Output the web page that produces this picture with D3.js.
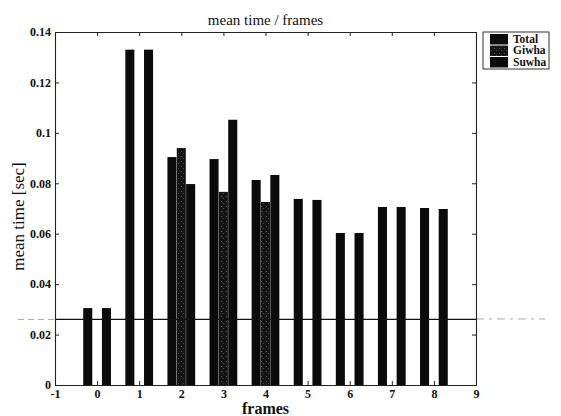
<!DOCTYPE html>
<html>
<head>
<meta charset="utf-8">
<script src="https://cdn.jsdelivr.net/npm/d3@7"></script>
<style>
  body { margin: 0; background: #fff; }
  text { font-family: "Liberation Serif", "Times New Roman", serif; fill: #111; }
</style>
</head>
<body>
<div id="chart"></div>
<script>
var frames = [0, 1, 2, 3, 4, 5, 6, 7, 8];
var seriesNames = ["Total", "Giwha", "Suwha"];
var total = [0.0305, 0.133, 0.0904, 0.0896, 0.0813, 0.0738, 0.0603, 0.0706, 0.0702];
var giwha = [0, 0, 0.094, 0.0766, 0.0726, 0, 0, 0, 0];
var suwha = [0.0305, 0.133, 0.0797, 0.1052, 0.0833, 0.0734, 0.0603, 0.0706, 0.0698];
var xTicks = [-1, 0, 1, 2, 3, 4, 5, 6, 7, 8, 9];
var yTicks = [0, 0.02, 0.04, 0.06, 0.08, 0.1, 0.12, 0.14];
var yTickLabels = ["0", "0.02", "0.04", "0.06", "0.08", "0.1", "0.12", "0.14"];
var refLine = 0.026;

var width = 561,
    height = 416;
var plot = {left: 55, top: 32, right: 476, bottom: 385};

var svg = d3.select("#chart").append("svg")
  .attr("width", width)
  .attr("height", height);

// speckled dark gray for Giwha
var defs = svg.append("defs");
var pat = defs.append("pattern")
  .attr("id", "giwha")
  .attr("width", 5)
  .attr("height", 5)
  .attr("patternUnits", "userSpaceOnUse");
pat.append("rect").attr("width", 5).attr("height", 5).attr("fill", "#141414");
pat.append("rect").attr("x", 1).attr("y", 1).attr("width", 1).attr("height", 1).attr("fill", "#555");
pat.append("rect").attr("x", 3).attr("y", 3).attr("width", 1).attr("height", 1).attr("fill", "#444");

var fills = ["#0b0b0b", "url(#giwha)", "#0b0b0b"];

var x = d3.scaleLinear().domain([-1, 9]).range([plot.left, plot.right]);
var y = d3.scaleLinear().domain([0, 0.14]).range([plot.bottom, plot.top]);

var slot = 0.222, barW = 0.215;
var values = [total, giwha, suwha];

// bars
values.forEach(function(vals, s) {
  svg.append("g").selectAll("rect")
    .data(frames)
    .enter().append("rect")
    .attr("x", function(d) { return x(d + (s - 1) * slot - barW / 2); })
    .attr("width", function(d) { return x(barW) - x(0); })
    .attr("y", function(d, i) { return y(vals[i]); })
    .attr("height", function(d, i) { return y(0) - y(vals[i]); })
    .attr("fill", fills[s]);
});

// reference line (solid inside, faint outside)
svg.append("line")
  .attr("x1", plot.left).attr("x2", plot.right)
  .attr("y1", y(refLine)).attr("y2", y(refLine))
  .attr("stroke", "#111").attr("stroke-width", 1.2);
svg.append("line")
  .attr("x1", 18).attr("x2", plot.left)
  .attr("y1", y(refLine)).attr("y2", y(refLine))
  .attr("stroke", "#aaa").attr("stroke-dasharray", "6,4");
svg.append("line")
  .attr("x1", plot.right).attr("x2", 545)
  .attr("y1", y(refLine) - 0.5).attr("y2", y(refLine) - 0.5)
  .attr("stroke", "#aaa").attr("stroke-dasharray", "8,5,3,5");

// axes
var tickLen = 4;
var axisB = d3.axisBottom(x).tickValues(xTicks).tickSizeInner(-tickLen).tickSizeOuter(0).tickPadding(4)
  .tickFormat(function(d) { return d; });
var axisT = d3.axisTop(x).tickValues(xTicks).tickSizeInner(-tickLen).tickSizeOuter(0).tickFormat("");
var axisL = d3.axisLeft(y).tickValues(yTicks).tickSizeInner(-tickLen).tickSizeOuter(0).tickPadding(4)
  .tickFormat(function(d, i) { return yTickLabels[i]; });
var axisR = d3.axisRight(y).tickValues(yTicks).tickSizeInner(-tickLen).tickSizeOuter(0).tickFormat("");

svg.append("g").attr("class", "axis").attr("transform", "translate(0," + plot.bottom + ")").call(axisB);
svg.append("g").attr("class", "axis").attr("transform", "translate(0," + plot.top + ")").call(axisT);
svg.append("g").attr("class", "axis").attr("transform", "translate(" + plot.left + ",0)").call(axisL);
svg.append("g").attr("class", "axis").attr("transform", "translate(" + plot.right + ",0)").call(axisR);

svg.selectAll(".axis path").attr("stroke", "#222").attr("stroke-width", 1.1);
svg.selectAll(".axis line").attr("stroke", "#222");
svg.selectAll(".axis text")
  .attr("font-family", "Liberation Serif")
  .attr("font-size", 12)
  .attr("font-weight", "bold")
  .attr("fill", "#111");

// titles
svg.append("text")
  .attr("x", (plot.left + plot.right) / 2)
  .attr("y", 25)
  .attr("text-anchor", "middle")
  .attr("font-size", 15)
  .text("mean time / frames");

svg.append("text")
  .attr("x", (plot.left + plot.right) / 2)
  .attr("y", 414)
  .attr("text-anchor", "middle")
  .attr("font-size", 16)
  .attr("font-weight", "bold")
  .text("frames");

svg.append("text")
  .attr("transform", "translate(24," + ((plot.top + plot.bottom) / 2 + 8) + ") rotate(-90)")
  .attr("text-anchor", "middle")
  .attr("font-size", 17)
  .text("mean time [sec]");

// legend
var legend = svg.append("g").attr("transform", "translate(483,32)");
legend.append("rect")
  .attr("width", 66).attr("height", 37)
  .attr("fill", "#fff").attr("stroke", "#333");
seriesNames.forEach(function(name, i) {
  legend.append("rect")
    .attr("x", 7).attr("y", 2 + i * 11.5)
    .attr("width", 18).attr("height", 10.5)
    .attr("fill", fills[i]);
  legend.append("text")
    .attr("x", 30).attr("y", 10.5 + i * 11.5)
    .attr("font-size", 11.5)
    .attr("font-weight", "bold")
    .text(name);
});
</script>
</body>
</html>
